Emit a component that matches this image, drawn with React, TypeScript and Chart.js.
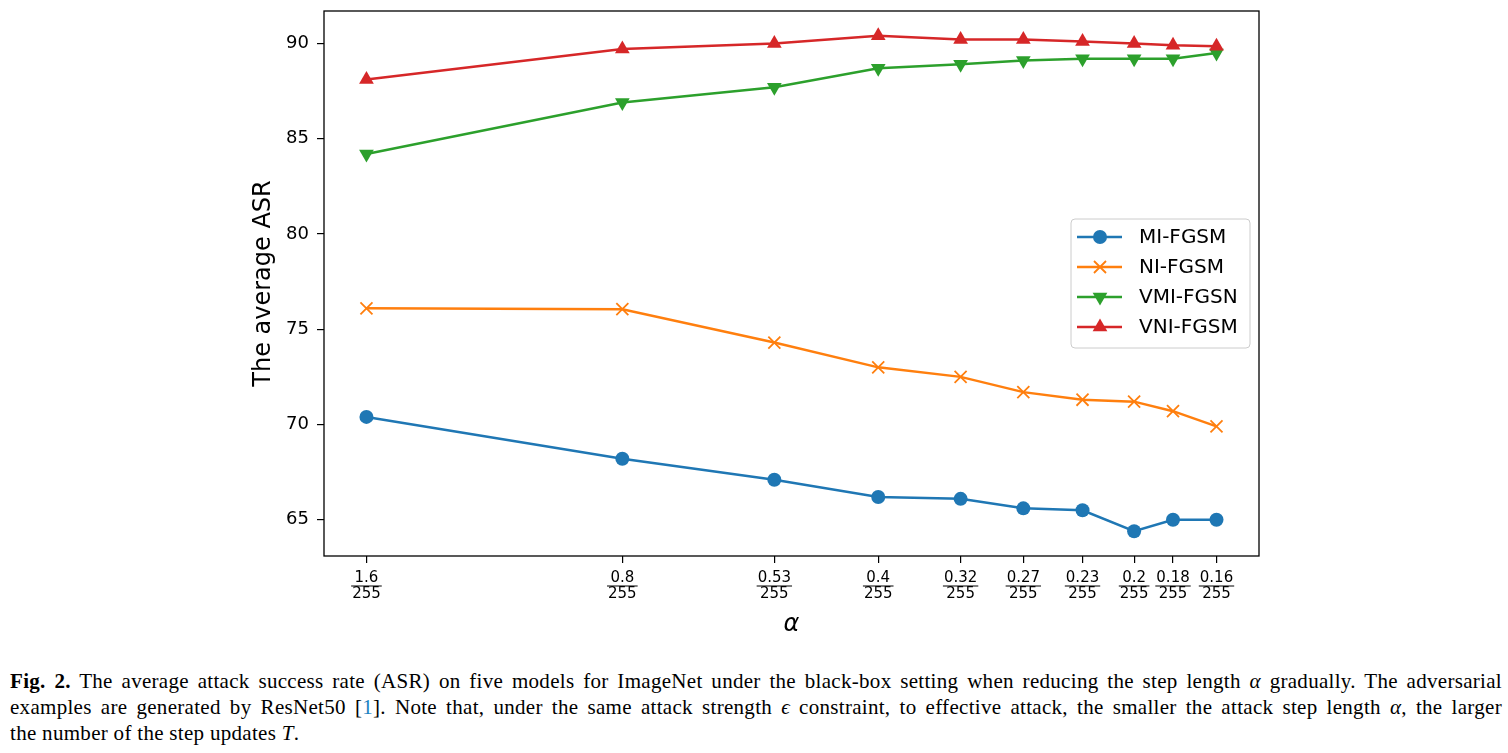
import React, { useEffect, useRef } from 'react';
import { Chart, registerables } from 'chart.js';

Chart.register(...registerables);

// ---- data ----
const alphaNumerators = [1.6, 0.8, 0.53, 0.4, 0.32, 0.27, 0.23, 0.2, 0.18, 0.16];
const alphaTickLabels = ['1.6', '0.8', '0.53', '0.4', '0.32', '0.27', '0.23', '0.2', '0.18', '0.16'];
const alphaDenominator = '255';
const yTickValues = [65, 70, 75, 80, 85, 90];
const seriesNames = ['MI-FGSM', 'NI-FGSM', 'VMI-FGSN', 'VNI-FGSM'];
const miFgsm = [70.4, 68.2, 67.1, 66.2, 66.1, 65.6, 65.5, 64.4, 65.0, 65.0];
const niFgsm = [76.1, 76.05, 74.3, 73.0, 72.5, 71.7, 71.3, 71.2, 70.7, 69.9];
const vmiFgsn = [84.2, 86.9, 87.7, 88.7, 88.9, 89.1, 89.2, 89.2, 89.2, 89.5];
const vniFgsm = [88.1, 89.7, 90.0, 90.4, 90.2, 90.2, 90.1, 90.0, 89.9, 89.85];

const seriesValues = [miFgsm, niFgsm, vmiFgsn, vniFgsm];
const seriesColors = ['#1f77b4', '#ff7f0e', '#2ca02c', '#d62728'];
const seriesMarkers = ['circle', 'crossRot', 'triangleDown', 'triangle'];

// ---- style constants ----
const FONT = '"DejaVu Sans", sans-serif';
const TICK_LEN = 7;
const X_TICK_FONT = 15;
const X_TICK_LINE = 16;
const X_TICK_PAD = 7;

function markerRadius(m: string) {
  if (m === 'circle') return 7;
  if (m === 'crossRot') return 8.5;
  return 8.5;
}

function drawMarker(ctx: CanvasRenderingContext2D, m: string, x: number, y: number, color: string) {
  const r = markerRadius(m);
  ctx.save();
  ctx.fillStyle = color;
  ctx.strokeStyle = color;
  if (m === 'circle') {
    ctx.beginPath();
    ctx.arc(x, y, r, 0, Math.PI * 2);
    ctx.fill();
  } else if (m === 'crossRot') {
    const d = r * Math.SQRT1_2;
    ctx.lineWidth = 1.8;
    ctx.beginPath();
    ctx.moveTo(x - d, y - d);
    ctx.lineTo(x + d, y + d);
    ctx.moveTo(x - d, y + d);
    ctx.lineTo(x + d, y - d);
    ctx.stroke();
  } else {
    const rot = m === 'triangle' ? 0 : Math.PI;
    const pts = [0, 1, 2].map((k) => {
      const a = rot + (k * 2 * Math.PI) / 3;
      return [x + Math.sin(a) * r, y - Math.cos(a) * r];
    });
    ctx.beginPath();
    ctx.moveTo(pts[0][0], pts[0][1]);
    ctx.lineTo(pts[1][0], pts[1][1]);
    ctx.lineTo(pts[2][0], pts[2][1]);
    ctx.closePath();
    ctx.fill();
  }
  ctx.restore();
}

const decorPlugin = {
  id: 'decor',
  afterDraw(chart: any) {
    const { ctx, chartArea: a } = chart;
    const xs = chart.scales.x;
    ctx.save();
    // frame (all four spines)
    ctx.strokeStyle = '#000';
    ctx.lineWidth = 1.3;
    ctx.strokeRect(a.left, a.top, a.right - a.left, a.bottom - a.top);

    // fraction bars under the x tick numerators
    ctx.font = `${X_TICK_FONT}px ${FONT}`;
    ctx.lineWidth = 1;
    const barY = a.bottom + TICK_LEN + X_TICK_PAD + X_TICK_LINE;
    alphaNumerators.forEach((v, i) => {
      const px = xs.getPixelForValue(v);
      const w = Math.max(ctx.measureText(alphaTickLabels[i]).width, ctx.measureText(alphaDenominator).width) + 2;
      ctx.beginPath();
      ctx.moveTo(px - w / 2, barY);
      ctx.lineTo(px + w / 2, barY);
      ctx.stroke();
    });

    // legend (center right)
    const bw = 179;
    const bh = 129;
    const bx = a.right - 9 - bw;
    const by = (a.top + a.bottom) / 2 - bh / 2;
    const rr = 4;
    ctx.beginPath();
    ctx.moveTo(bx + rr, by);
    ctx.lineTo(bx + bw - rr, by);
    ctx.quadraticCurveTo(bx + bw, by, bx + bw, by + rr);
    ctx.lineTo(bx + bw, by + bh - rr);
    ctx.quadraticCurveTo(bx + bw, by + bh, bx + bw - rr, by + bh);
    ctx.lineTo(bx + rr, by + bh);
    ctx.quadraticCurveTo(bx, by + bh, bx, by + bh - rr);
    ctx.lineTo(bx, by + rr);
    ctx.quadraticCurveTo(bx, by, bx + rr, by);
    ctx.closePath();
    ctx.fillStyle = 'rgba(255,255,255,0.8)';
    ctx.fill();
    ctx.strokeStyle = '#cccccc';
    ctx.lineWidth = 1;
    ctx.stroke();

    ctx.font = `20px ${FONT}`;
    ctx.textBaseline = 'middle';
    ctx.textAlign = 'left';
    seriesNames.forEach((name, i) => {
      const cy = by + 18 + i * 30;
      ctx.strokeStyle = seriesColors[i];
      ctx.lineWidth = 2.5;
      ctx.beginPath();
      ctx.moveTo(bx + 6, cy);
      ctx.lineTo(bx + 51, cy);
      ctx.stroke();
      drawMarker(ctx, seriesMarkers[i], bx + 29, cy, seriesColors[i]);
      ctx.fillStyle = '#000';
      ctx.fillText(name, bx + 68, cy + 1);
    });
    ctx.restore();
  },
};

function Caption() {
  const line: React.CSSProperties = { textAlign: 'justify', textAlignLast: 'justify' };
  return (
    <div
      style={{
        position: 'absolute',
        left: 10,
        top: 668,
        width: 1492,
        fontFamily: '"Liberation Serif", "DejaVu Serif", serif',
        fontSize: 21,
        letterSpacing: '0.3px',
        lineHeight: '26px',
        color: '#000',
      }}
    >
      <div style={line}>
        <b>Fig. 2.</b> The average attack success rate (ASR) on five models for ImageNet under the black-box setting when
        reducing the step length <i>α</i> gradually. The adversarial
      </div>
      <div style={line}>
        examples are generated by ResNet50 [<span style={{ color: '#1a7fc1' }}>1</span>]. Note that, under the same attack
        strength <i>ϵ</i> constraint, to effective attack, the smaller the attack step length <i>α</i>, the larger
      </div>
      <div>
        the number of the step updates <i>T</i>.
      </div>
    </div>
  );
}

export default function App() {
  const ref = useRef<HTMLCanvasElement>(null);

  useEffect(() => {
    const canvas = ref.current;
    if (!canvas) return;
    const datasets = seriesNames.map((name, i) => {
      const m = seriesMarkers[i];
      return {
        label: name,
        data: alphaNumerators.map((x, j) => ({ x, y: seriesValues[i][j] })),
        borderColor: seriesColors[i],
        backgroundColor: seriesColors[i],
        borderWidth: 2.5,
        tension: 0,
        pointStyle: m === 'triangleDown' ? 'triangle' : m,
        rotation: m === 'triangleDown' ? 180 : 0,
        pointRadius: markerRadius(m),
        pointBackgroundColor: seriesColors[i],
        pointBorderColor: seriesColors[i],
        pointBorderWidth: m === 'crossRot' ? 1.8 : 0,
        order: seriesNames.length - i,
      };
    });

    const chart = new Chart(canvas, {
      type: 'line',
      data: { datasets } as any,
      plugins: [decorPlugin as any],
      options: {
        animation: false,
        responsive: true,
        maintainAspectRatio: false,
        layout: { padding: { left: 240, right: 249, top: 11, bottom: 0 } },
        plugins: { legend: { display: false }, tooltip: { enabled: false } },
        scales: {
          x: {
            type: 'logarithmic',
            reverse: true,
            min: 0.1426,
            max: 1.795,
            afterBuildTicks: (scale: any) => {
              scale.ticks = alphaNumerators.map((v) => ({ value: v }));
            },
            afterFit: (scale: any) => {
              scale.height = 104;
              scale.paddingLeft = 0;
              scale.paddingRight = 0;
            },
            grid: {
              display: true,
              drawOnChartArea: false,
              drawTicks: true,
              tickLength: TICK_LEN,
              color: '#000',
              lineWidth: 1.2,
            },
            border: { display: false },
            ticks: {
              autoSkip: false,
              maxRotation: 0,
              minRotation: 0,
              padding: X_TICK_PAD,
              color: '#000',
              font: { family: FONT, size: X_TICK_FONT, lineHeight: X_TICK_LINE / X_TICK_FONT },
              callback: (value: any) => {
                const idx = alphaNumerators.findIndex((v) => Math.abs(v - Number(value)) < 1e-9);
                return idx >= 0 ? [alphaTickLabels[idx], alphaDenominator] : '';
              },
            },
            title: {
              display: true,
              text: 'α',
              color: '#000',
              font: { family: FONT, size: 24, style: 'italic' },
              padding: { top: 0, bottom: 21 },
            },
          },
          y: {
            type: 'linear',
            min: 63.1,
            max: 91.7,
            afterBuildTicks: (scale: any) => {
              scale.ticks = yTickValues.map((v) => ({ value: v }));
            },
            afterFit: (scale: any) => {
              scale.width = 84;
              scale.paddingTop = 0;
              scale.paddingBottom = 0;
            },
            grid: {
              display: true,
              drawOnChartArea: false,
              drawTicks: true,
              tickLength: TICK_LEN,
              color: '#000',
              lineWidth: 1.2,
            },
            border: { display: false },
            ticks: {
              padding: 8,
              color: '#000',
              font: { family: FONT, size: 18 },
              callback: (value: any) => String(value),
            },
            title: {
              display: true,
              text: 'The average ASR',
              color: '#000',
              font: { family: FONT, size: 24 },
              padding: { top: 9, bottom: 0 },
            },
          },
        },
      } as any,
    });
    return () => chart.destroy();
  }, []);

  return (
    <>
      <div style={{ position: 'absolute', left: 0, top: 0, width: 1508, height: 660 }}>
        <canvas ref={ref} />
      </div>
      <Caption />
    </>
  );
}
